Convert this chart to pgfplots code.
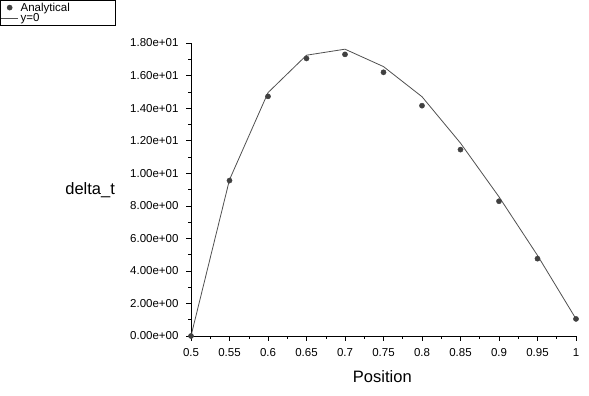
\documentclass[border=0pt]{standalone}
\usepackage{pgfplots}
\pgfplotsset{compat=1.18}
\usepackage{fontspec}
\setmainfont{Liberation Sans}
\definecolor{ptcol}{HTML}{404040}
\definecolor{lncol}{HTML}{505050}
\pgfplotstableread{
x y
0.50 0.00
0.55 9.55
0.60 14.72
0.65 17.05
0.70 17.30
0.75 16.20
0.80 14.15
0.85 11.45
0.90 8.28
0.95 4.75
1.00 1.05
}\analytical
\pgfplotstableread{
x y
0.50 0.00
0.55 9.60
0.60 14.95
0.65 17.25
0.70 17.62
0.75 16.55
0.80 14.70
0.85 11.85
0.90 8.55
0.95 4.95
1.00 1.05
}\yzero
\begin{document}
\begin{tikzpicture}[x=1pt,y=1pt]
\useasboundingbox (0,0) rectangle (589,396);
\begin{axis}[
  at={(191pt,60pt)}, anchor=south west,
  scale only axis, width=385pt, height=293pt,
  xmin=0.5, xmax=1, ymin=0, ymax=18,
  axis lines*=left,
  axis line style={black, line width=0.5pt, -},
  tick align=outside,
  major tick length=5pt, minor tick length=3pt,
  tick style={black, line width=0.5pt},
  xtick={0.5,0.55,...,1.01},
  xticklabels={0.5,0.55,0.6,0.65,0.7,0.75,0.8,0.85,0.9,0.95,1},
  minor x tick num=1,
  ytick={0,2,...,18},
  yticklabels={0.00e+00,2.00e+00,4.00e+00,6.00e+00,8.00e+00,1.00e+01,1.20e+01,1.40e+01,1.60e+01,1.80e+01},
  minor y tick num=1,
  ticklabel style={font=\fontsize{11.5}{13}\selectfont},
  xticklabel style={yshift=-4pt},
  yticklabel style={xshift=-4pt},
  xlabel={Position}, ylabel={delta\_t},
  every axis x label/.style={at={(axis description cs:0.497,-0.140)}, anchor=center, font=\fontsize{16.5}{19}\selectfont},
  every axis y label/.style={at={(axis description cs:-0.262,0.498)}, anchor=center, font=\fontsize{16.5}{19}\selectfont},
  clip=false,
  legend style={at={(axis description cs:-0.496,1.1468)}, anchor=north west,
    draw=black, line width=0.4pt, inner sep=0.5pt, row sep=-3pt,
    font=\fontsize{11.5}{12}\selectfont, cells={anchor=west},
    legend cell align=left, text width=92pt},
]
\addplot[only marks, mark=*, mark size=2.6pt, ptcol] table[x=x,y=y]{\analytical};
\addlegendentry{Analytical}
\addplot[lncol, line width=0.8pt, mark=none] table[x=x,y=y]{\yzero};
\addlegendentry{y=0}
\end{axis}
\end{tikzpicture}
\end{document}
